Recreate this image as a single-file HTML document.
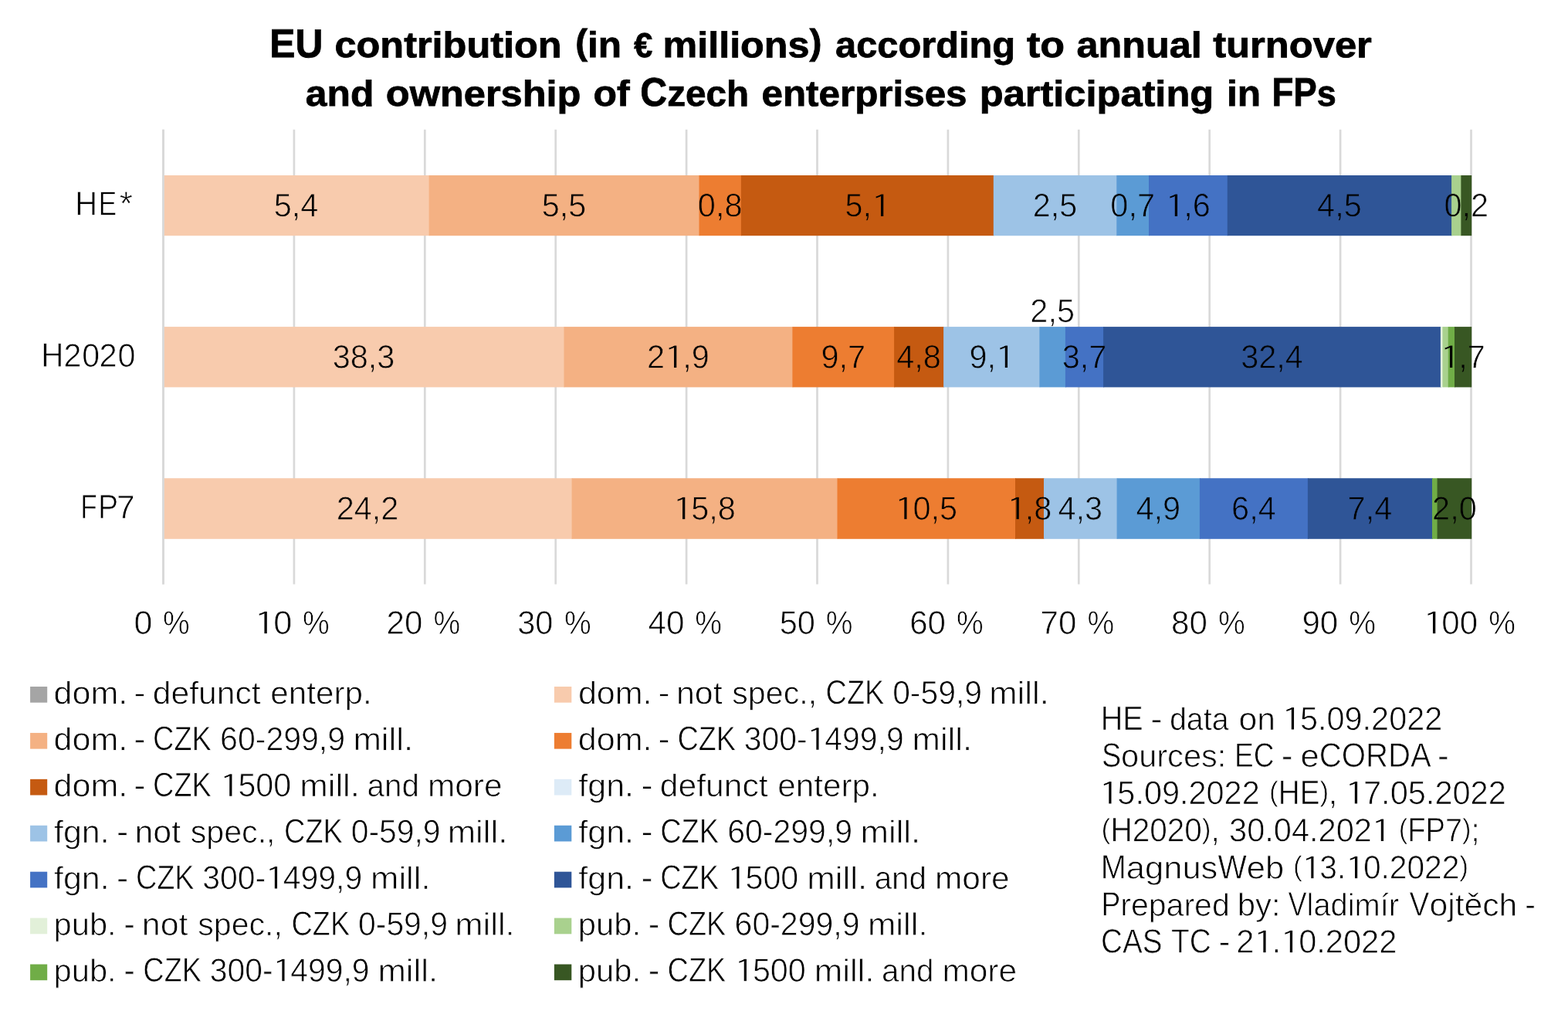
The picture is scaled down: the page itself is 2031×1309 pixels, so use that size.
<!DOCTYPE html>
<html lang="en">
<head>
<meta charset="utf-8">
<title>EU contribution (in € millions) according to annual turnover and ownership of Czech enterprises participating in FPs</title>
<style>
html,body{margin:0;padding:0;background:#fff;}
body{width:2031px;height:1309px;overflow:hidden;}
svg{display:block;}
text{font-family:"Liberation Sans",sans-serif;text-rendering:geometricPrecision;fill:#000;stroke:#fff;stroke-width:0.75px;mix-blend-mode:multiply;}
text.b{font-weight:700;stroke:#000;stroke-width:0.8px;mix-blend-mode:normal;}
tspan.o{font-family:"IPAGothic","Liberation Sans",sans-serif;stroke-width:1.2px;}
</style>
</head>
<body>
<svg width="2031" height="1309" viewBox="0 0 2031 1309" role="img" aria-label="Stacked bar chart: EU contribution by turnover and ownership of Czech enterprises">
<rect width="2031" height="1309" fill="#fff"/>
<g id="gridlines" stroke="#D9D9D9" stroke-width="2.7">
<line x1="211.5" y1="167.8" x2="211.5" y2="756.4"/>
<line x1="380.9" y1="167.8" x2="380.9" y2="756.4"/>
<line x1="550.3" y1="167.8" x2="550.3" y2="756.4"/>
<line x1="719.7" y1="167.8" x2="719.7" y2="756.4"/>
<line x1="889.1" y1="167.8" x2="889.1" y2="756.4"/>
<line x1="1058.5" y1="167.8" x2="1058.5" y2="756.4"/>
<line x1="1227.9" y1="167.8" x2="1227.9" y2="756.4"/>
<line x1="1397.3" y1="167.8" x2="1397.3" y2="756.4"/>
<line x1="1566.7" y1="167.8" x2="1566.7" y2="756.4"/>
<line x1="1736.1" y1="167.8" x2="1736.1" y2="756.4"/>
<line x1="1905.5" y1="167.8" x2="1905.5" y2="756.4"/>
</g>
<g id="bars">
<rect x="211.5" y="227" width="345.1" height="78.2" fill="#F8CBAD"/>
<rect x="555.6" y="227" width="350.9" height="78.2" fill="#F4B183"/>
<rect x="905.5" y="227" width="55.4" height="78.2" fill="#ED7D31"/>
<rect x="959.9" y="227" width="327.9" height="78.2" fill="#C55A11"/>
<rect x="1286.8" y="227" width="160.5" height="78.2" fill="#9DC3E6"/>
<rect x="1446.3" y="227" width="42.7" height="78.2" fill="#5B9BD5"/>
<rect x="1488" y="227" width="102.8" height="78.2" fill="#4472C4"/>
<rect x="1589.8" y="227" width="291.3" height="78.2" fill="#2F5597"/>
<rect x="1880.1" y="227" width="13.3" height="78.2" fill="#A9D18E"/>
<rect x="1892.4" y="227" width="13.8" height="78.2" fill="#385723"/>
<rect x="211.5" y="423.1" width="520" height="78.3" fill="#F8CBAD"/>
<rect x="730.5" y="423.1" width="296.9" height="78.3" fill="#F4B183"/>
<rect x="1026.4" y="423.1" width="132.7" height="78.3" fill="#ED7D31"/>
<rect x="1158.1" y="423.1" width="65" height="78.3" fill="#C55A11"/>
<rect x="1222.1" y="423.1" width="125.3" height="78.3" fill="#9DC3E6"/>
<rect x="1346.4" y="423.1" width="34.5" height="78.3" fill="#5B9BD5"/>
<rect x="1379.9" y="423.1" width="50.2" height="78.3" fill="#4472C4"/>
<rect x="1429.1" y="423.1" width="437.8" height="78.3" fill="#2F5597"/>
<rect x="1865.9" y="423.1" width="3.6" height="78.3" fill="#E2F0D9"/>
<rect x="1868.5" y="423.1" width="8.2" height="78.3" fill="#A9D18E"/>
<rect x="1875.7" y="423.1" width="9.3" height="78.3" fill="#70AD47"/>
<rect x="1884" y="423.1" width="22.2" height="78.3" fill="#385723"/>
<rect x="211.5" y="619.2" width="530.1" height="78.6" fill="#F8CBAD"/>
<rect x="740.6" y="619.2" width="344.9" height="78.6" fill="#F4B183"/>
<rect x="1084.5" y="619.2" width="231.5" height="78.6" fill="#ED7D31"/>
<rect x="1315" y="619.2" width="38" height="78.6" fill="#C55A11"/>
<rect x="1352" y="619.2" width="95.6" height="78.6" fill="#9DC3E6"/>
<rect x="1446.6" y="619.2" width="108.3" height="78.6" fill="#5B9BD5"/>
<rect x="1553.9" y="619.2" width="141" height="78.6" fill="#4472C4"/>
<rect x="1693.9" y="619.2" width="162.1" height="78.6" fill="#2F5597"/>
<rect x="1855" y="619.2" width="7.6" height="78.6" fill="#70AD47"/>
<rect x="1861.6" y="619.2" width="44.6" height="78.6" fill="#385723"/>
</g>
<line x1="211.5" y1="167.8" x2="211.5" y2="756.4" stroke="#D9D9D9" stroke-width="2.7"/>
<g id="data-labels">
<text transform="rotate(0.05)" font-size="44"><tspan x="354.97" y="279.99" textLength="57.66" lengthAdjust="spacingAndGlyphs" font-size="42.46">5,4</tspan></text>
<text transform="rotate(0.05)" font-size="44"><tspan x="701.97" y="279.69" textLength="57.66" lengthAdjust="spacingAndGlyphs" font-size="42.46">5,5</tspan></text>
<text transform="rotate(0.05)" font-size="44"><tspan x="904.12" y="279.51" textLength="57.66" lengthAdjust="spacingAndGlyphs" font-size="42.46">0,8</tspan></text>
<text transform="rotate(0.05)" font-size="44"><tspan x="1094.77" y="279.34" textLength="34.58" lengthAdjust="spacingAndGlyphs" font-size="42.46">5,</tspan><tspan x="1126.67" y="281.69" textLength="30.61" lengthAdjust="spacingAndGlyphs" class="o" font-size="42.46">1</tspan></text>
<text transform="rotate(0.05)" font-size="44"><tspan x="1337.97" y="279.13" textLength="57.66" lengthAdjust="spacingAndGlyphs" font-size="42.46">2,5</tspan></text>
<text transform="rotate(0.05)" font-size="44"><tspan x="1438.57" y="279.04" textLength="57.66" lengthAdjust="spacingAndGlyphs" font-size="42.46">0,7</tspan></text>
<text transform="rotate(0.05)" font-size="44"><tspan x="1507.64" y="281.36" textLength="30.61" lengthAdjust="spacingAndGlyphs" class="o" font-size="42.46">1</tspan><tspan x="1533.39" y="278.96" textLength="34.58" lengthAdjust="spacingAndGlyphs" font-size="42.46">,6</tspan></text>
<text transform="rotate(0.05)" font-size="44"><tspan x="1706.37" y="278.81" textLength="57.66" lengthAdjust="spacingAndGlyphs" font-size="42.46">4,5</tspan></text>
<text transform="rotate(0.05)" font-size="44"><tspan x="1870.72" y="278.67" textLength="57.66" lengthAdjust="spacingAndGlyphs" font-size="42.46">0,2</tspan></text>
<text transform="rotate(0.05)" font-size="44"><tspan x="431.06" y="476.07" textLength="80.72" lengthAdjust="spacingAndGlyphs" font-size="42.46">38,3</tspan></text>
<text transform="rotate(0.05)" font-size="44"><tspan x="838.5" y="475.72" textLength="23.07" lengthAdjust="spacingAndGlyphs" font-size="42.46">2</tspan><tspan x="858.9" y="478.08" textLength="30.61" lengthAdjust="spacingAndGlyphs" class="o" font-size="42.46">1</tspan><tspan x="884.65" y="475.68" textLength="34.58" lengthAdjust="spacingAndGlyphs" font-size="42.46">,9</tspan></text>
<text transform="rotate(0.05)" font-size="44"><tspan x="1063.84" y="475.52" textLength="57.66" lengthAdjust="spacingAndGlyphs" font-size="42.46">9,7</tspan></text>
<text transform="rotate(0.05)" font-size="44"><tspan x="1161.69" y="475.44" textLength="57.66" lengthAdjust="spacingAndGlyphs" font-size="42.46">4,8</tspan></text>
<text transform="rotate(0.05)" font-size="44"><tspan x="1255.84" y="475.35" textLength="34.58" lengthAdjust="spacingAndGlyphs" font-size="42.46">9,</tspan><tspan x="1287.74" y="477.7" textLength="30.61" lengthAdjust="spacingAndGlyphs" class="o" font-size="42.46">1</tspan></text>
<text transform="rotate(0.05)" font-size="44"><tspan x="1334.69" y="415.74" textLength="57.66" lengthAdjust="spacingAndGlyphs" font-size="42.46">2,5</tspan></text>
<text transform="rotate(0.05)" font-size="44"><tspan x="1376.09" y="475.25" textLength="57.66" lengthAdjust="spacingAndGlyphs" font-size="42.46">3,7</tspan></text>
<text transform="rotate(0.05)" font-size="44"><tspan x="1607.56" y="475.05" textLength="80.72" lengthAdjust="spacingAndGlyphs" font-size="42.46">32,4</tspan></text>
<text transform="rotate(0.05)" font-size="44"><tspan x="1864.01" y="477.2" textLength="30.61" lengthAdjust="spacingAndGlyphs" class="o" font-size="42.46">1</tspan><tspan x="1889.76" y="474.8" textLength="34.58" lengthAdjust="spacingAndGlyphs" font-size="42.46">,7</tspan></text>
<text transform="rotate(0.05)" font-size="44"><tspan x="436.28" y="672.32" textLength="80.72" lengthAdjust="spacingAndGlyphs" font-size="42.46">24,2</tspan></text>
<text transform="rotate(0.05)" font-size="44"><tspan x="870.1" y="674.32" textLength="30.61" lengthAdjust="spacingAndGlyphs" class="o" font-size="42.46">1</tspan><tspan x="895.85" y="671.92" textLength="57.66" lengthAdjust="spacingAndGlyphs" font-size="42.46">5,8</tspan></text>
<text transform="rotate(0.05)" font-size="44"><tspan x="1157.3" y="674.07" textLength="30.61" lengthAdjust="spacingAndGlyphs" class="o" font-size="42.46">1</tspan><tspan x="1183.05" y="671.67" textLength="57.66" lengthAdjust="spacingAndGlyphs" font-size="42.46">0,5</tspan></text>
<text transform="rotate(0.05)" font-size="44"><tspan x="1302.58" y="673.94" textLength="30.61" lengthAdjust="spacingAndGlyphs" class="o" font-size="42.46">1</tspan><tspan x="1328.33" y="671.54" textLength="34.58" lengthAdjust="spacingAndGlyphs" font-size="42.46">,8</tspan></text>
<text transform="rotate(0.05)" font-size="44"><tspan x="1371.06" y="671.5" textLength="57.66" lengthAdjust="spacingAndGlyphs" font-size="42.46">4,3</tspan></text>
<text transform="rotate(0.05)" font-size="44"><tspan x="1472.01" y="671.42" textLength="57.66" lengthAdjust="spacingAndGlyphs" font-size="42.46">4,9</tspan></text>
<text transform="rotate(0.05)" font-size="44"><tspan x="1595.66" y="671.31" textLength="57.66" lengthAdjust="spacingAndGlyphs" font-size="42.46">6,4</tspan></text>
<text transform="rotate(0.05)" font-size="44"><tspan x="1746.21" y="671.18" textLength="57.66" lengthAdjust="spacingAndGlyphs" font-size="42.46">7,4</tspan></text>
<text transform="rotate(0.05)" font-size="44"><tspan x="1855.66" y="671.08" textLength="57.66" lengthAdjust="spacingAndGlyphs" font-size="42.46">2,0</tspan></text>
</g>
<g id="legend-swatches">
<rect x="39.1" y="889" width="22.1" height="20.7" fill="#A5A5A5"/>
<rect x="39.1" y="948.92" width="22.1" height="20.7" fill="#F4B183"/>
<rect x="39.1" y="1008.84" width="22.1" height="20.7" fill="#C55A11"/>
<rect x="39.1" y="1068.76" width="22.1" height="20.7" fill="#9DC3E6"/>
<rect x="39.1" y="1128.68" width="22.1" height="20.7" fill="#4472C4"/>
<rect x="39.1" y="1188.6" width="22.1" height="20.7" fill="#E2F0D9"/>
<rect x="39.1" y="1248.52" width="22.1" height="20.7" fill="#70AD47"/>
<rect x="717.9" y="889" width="22.4" height="20.7" fill="#F8CBAD"/>
<rect x="717.9" y="948.92" width="22.4" height="20.7" fill="#ED7D31"/>
<rect x="717.9" y="1008.84" width="22.4" height="20.7" fill="#DDEBF7"/>
<rect x="717.9" y="1068.76" width="22.4" height="20.7" fill="#5B9BD5"/>
<rect x="717.9" y="1128.68" width="22.4" height="20.7" fill="#2F5597"/>
<rect x="717.9" y="1188.6" width="22.4" height="20.7" fill="#A9D18E"/>
<rect x="717.9" y="1248.52" width="22.4" height="20.7" fill="#385723"/>
</g>
<g id="labels">
<text transform="rotate(0.05)" font-size="52.1" class="b"><tspan x="349.43" y="73.8" textLength="68.93" lengthAdjust="spacingAndGlyphs">EU</tspan> <tspan x="433.57" y="73.72" textLength="294.17" lengthAdjust="spacingAndGlyphs" font-size="46.89">contribution</tspan> <tspan x="745.39" y="69.7" textLength="15.75" lengthAdjust="spacingAndGlyphs" font-size="46.11">(</tspan><tspan x="761.14" y="73.44" textLength="44.02" lengthAdjust="spacingAndGlyphs" font-size="46.89">in</tspan> <tspan x="821.32" y="73.38" textLength="24.02" lengthAdjust="spacingAndGlyphs" font-size="44.81">€</tspan> <tspan x="858.66" y="73.35" textLength="189.83" lengthAdjust="spacingAndGlyphs" font-size="46.89">millions</tspan><tspan x="1048.48" y="69.43" textLength="15.98" lengthAdjust="spacingAndGlyphs" font-size="46.11">)</tspan> <tspan x="1082.12" y="73.16" textLength="233.04" lengthAdjust="spacingAndGlyphs" font-size="46.89">according</tspan> <tspan x="1330.12" y="72.94" textLength="49.1" lengthAdjust="spacingAndGlyphs" font-size="46.89">to</tspan> <tspan x="1394.69" y="72.88" textLength="162.16" lengthAdjust="spacingAndGlyphs" font-size="46.89">annual</tspan> <tspan x="1571.22" y="72.73" textLength="205.68" lengthAdjust="spacingAndGlyphs" font-size="46.89">turnover</tspan></text>
<text transform="rotate(0.05)" font-size="52.1" class="b"><tspan x="395.95" y="136.75" textLength="88.54" lengthAdjust="spacingAndGlyphs" font-size="46.89">and</tspan> <tspan x="499.94" y="136.66" textLength="252.64" lengthAdjust="spacingAndGlyphs" font-size="46.89">ownership</tspan> <tspan x="768.55" y="136.43" textLength="47.1" lengthAdjust="spacingAndGlyphs" font-size="46.89">of</tspan> <tspan x="829.49" y="136.38" textLength="34.87" lengthAdjust="spacingAndGlyphs">C</tspan><tspan x="864.36" y="136.35" textLength="105.83" lengthAdjust="spacingAndGlyphs" font-size="46.89">zech</tspan> <tspan x="986.57" y="136.24" textLength="266.13" lengthAdjust="spacingAndGlyphs" font-size="46.89">enterprises</tspan> <tspan x="1268.89" y="135.99" textLength="303.43" lengthAdjust="spacingAndGlyphs" font-size="46.89">participating</tspan> <tspan x="1589.09" y="135.71" textLength="44.14" lengthAdjust="spacingAndGlyphs" font-size="46.89">in</tspan> <tspan x="1647.52" y="135.66" textLength="58.35" lengthAdjust="spacingAndGlyphs">FP</tspan><tspan x="1705.86" y="135.61" textLength="25.04" lengthAdjust="spacingAndGlyphs" font-size="46.89">s</tspan></text>
<text transform="rotate(0.05)" font-size="44"><tspan x="97.49" y="278.52" textLength="28.82" lengthAdjust="spacingAndGlyphs">H</tspan><tspan x="128.12" y="278.49" textLength="23.44" lengthAdjust="spacingAndGlyphs">E</tspan><tspan x="155.09" y="278.46" textLength="17.13" lengthAdjust="spacingAndGlyphs">*</tspan></text>
<text transform="rotate(0.05)" font-size="44"><tspan x="53.73" y="474.65" textLength="29.08" lengthAdjust="spacingAndGlyphs">H</tspan><tspan x="82.95" y="474.63" textLength="22.91" lengthAdjust="spacingAndGlyphs" font-size="42.46">2</tspan><tspan x="106.66" y="474.61" textLength="22.84" lengthAdjust="spacingAndGlyphs" font-size="42.46">0</tspan><tspan x="128.83" y="474.59" textLength="23.17" lengthAdjust="spacingAndGlyphs" font-size="42.46">2</tspan><tspan x="152.95" y="474.57" textLength="22.96" lengthAdjust="spacingAndGlyphs" font-size="42.46">0</tspan></text>
<text transform="rotate(0.05)" font-size="44"><tspan x="104.85" y="671.01" textLength="21.5" lengthAdjust="spacingAndGlyphs">F</tspan><tspan x="127.7" y="670.99" textLength="26.12" lengthAdjust="spacingAndGlyphs">P</tspan><tspan x="151.71" y="670.97" textLength="23.6" lengthAdjust="spacingAndGlyphs" font-size="42.46">7</tspan></text>
<text transform="rotate(0.05)" font-size="44"><tspan x="70.38" y="911.14" textLength="95.72" lengthAdjust="spacingAndGlyphs" font-size="40.92">dom.</tspan> <tspan x="174.09" y="911.05" textLength="15.22" lengthAdjust="spacingAndGlyphs" font-size="42.46">-</tspan> <tspan x="198.5" y="911.03" textLength="139.92" lengthAdjust="spacingAndGlyphs" font-size="40.92">defunct</tspan> <tspan x="351.01" y="910.89" textLength="131.45" lengthAdjust="spacingAndGlyphs" font-size="40.92">enterp.</tspan></text>
<text transform="rotate(0.05)" font-size="44"><tspan x="70.43" y="971.06" textLength="95.72" lengthAdjust="spacingAndGlyphs" font-size="40.92">dom.</tspan> <tspan x="174.15" y="970.97" textLength="15.22" lengthAdjust="spacingAndGlyphs" font-size="42.46">-</tspan> <tspan x="198.97" y="970.95" textLength="75.67" lengthAdjust="spacingAndGlyphs">CZK</tspan> <tspan x="285.98" y="970.87" textLength="161.87" lengthAdjust="spacingAndGlyphs" font-size="42.46">60-299,9</tspan> <tspan x="458.32" y="970.72" textLength="77.66" lengthAdjust="spacingAndGlyphs" font-size="40.92">mill.</tspan></text>
<text transform="rotate(0.05)" font-size="44"><tspan x="70.48" y="1030.98" textLength="95.72" lengthAdjust="spacingAndGlyphs" font-size="40.92">dom.</tspan> <tspan x="174.2" y="1030.89" textLength="15.22" lengthAdjust="spacingAndGlyphs" font-size="42.46">-</tspan> <tspan x="199.02" y="1030.87" textLength="75.67" lengthAdjust="spacingAndGlyphs">CZK</tspan> <tspan x="283.68" y="1033.17" textLength="30.45" lengthAdjust="spacingAndGlyphs" class="o" font-size="42.46">1</tspan><tspan x="309.29" y="1030.77" textLength="68.83" lengthAdjust="spacingAndGlyphs" font-size="42.46">500</tspan> <tspan x="389.07" y="1030.7" textLength="77.88" lengthAdjust="spacingAndGlyphs" font-size="40.92">mill.</tspan> <tspan x="476.5" y="1030.62" textLength="67.31" lengthAdjust="spacingAndGlyphs" font-size="40.92">and</tspan> <tspan x="554.87" y="1030.56" textLength="96.54" lengthAdjust="spacingAndGlyphs" font-size="40.92">more</tspan></text>
<text transform="rotate(0.05)" font-size="44"><tspan x="70.99" y="1090.9" textLength="71.62" lengthAdjust="spacingAndGlyphs" font-size="40.92">fgn.</tspan> <tspan x="152.05" y="1090.83" textLength="15.22" lengthAdjust="spacingAndGlyphs" font-size="42.46">-</tspan> <tspan x="175.38" y="1090.81" textLength="59.66" lengthAdjust="spacingAndGlyphs" font-size="40.92">not</tspan> <tspan x="247.73" y="1090.74" textLength="109.79" lengthAdjust="spacingAndGlyphs" font-size="40.92">spec.,</tspan> <tspan x="369.07" y="1090.64" textLength="75.67" lengthAdjust="spacingAndGlyphs">CZK</tspan> <tspan x="455.61" y="1090.56" textLength="115.84" lengthAdjust="spacingAndGlyphs" font-size="42.46">0-59,9</tspan> <tspan x="580.73" y="1090.45" textLength="77.55" lengthAdjust="spacingAndGlyphs" font-size="40.92">mill.</tspan></text>
<text transform="rotate(0.05)" font-size="44"><tspan x="71.05" y="1150.82" textLength="71.62" lengthAdjust="spacingAndGlyphs" font-size="40.92">fgn.</tspan> <tspan x="152.1" y="1150.75" textLength="15.22" lengthAdjust="spacingAndGlyphs" font-size="42.46">-</tspan> <tspan x="176.92" y="1150.73" textLength="75.67" lengthAdjust="spacingAndGlyphs">CZK</tspan> <tspan x="263.34" y="1150.65" textLength="81.81" lengthAdjust="spacingAndGlyphs" font-size="42.46">300-</tspan><tspan x="342.51" y="1152.96" textLength="30.17" lengthAdjust="spacingAndGlyphs" class="o" font-size="42.46">1</tspan><tspan x="367.89" y="1150.56" textLength="102.3" lengthAdjust="spacingAndGlyphs" font-size="42.46">499,9</tspan> <tspan x="481.08" y="1150.46" textLength="77.55" lengthAdjust="spacingAndGlyphs" font-size="40.92">mill.</tspan></text>
<text transform="rotate(0.05)" font-size="44"><tspan x="70.59" y="1210.74" textLength="81.2" lengthAdjust="spacingAndGlyphs" font-size="40.92">pub.</tspan> <tspan x="161.43" y="1210.66" textLength="14.66" lengthAdjust="spacingAndGlyphs" font-size="42.46">-</tspan> <tspan x="184.89" y="1210.64" textLength="59.66" lengthAdjust="spacingAndGlyphs" font-size="40.92">not</tspan> <tspan x="257.24" y="1210.58" textLength="109.79" lengthAdjust="spacingAndGlyphs" font-size="40.92">spec.,</tspan> <tspan x="378.58" y="1210.47" textLength="75.67" lengthAdjust="spacingAndGlyphs">CZK</tspan> <tspan x="465.11" y="1210.39" textLength="115.84" lengthAdjust="spacingAndGlyphs" font-size="42.46">0-59,9</tspan> <tspan x="590.24" y="1210.29" textLength="77.55" lengthAdjust="spacingAndGlyphs" font-size="40.92">mill.</tspan></text>
<text transform="rotate(0.05)" font-size="44"><tspan x="70.64" y="1270.66" textLength="81.2" lengthAdjust="spacingAndGlyphs" font-size="40.92">pub.</tspan> <tspan x="161.48" y="1270.58" textLength="14.66" lengthAdjust="spacingAndGlyphs" font-size="42.46">-</tspan> <tspan x="186.43" y="1270.56" textLength="75.67" lengthAdjust="spacingAndGlyphs">CZK</tspan> <tspan x="272.84" y="1270.48" textLength="81.81" lengthAdjust="spacingAndGlyphs" font-size="42.46">300-</tspan><tspan x="352.01" y="1272.79" textLength="30.17" lengthAdjust="spacingAndGlyphs" class="o" font-size="42.46">1</tspan><tspan x="377.4" y="1270.39" textLength="102.3" lengthAdjust="spacingAndGlyphs" font-size="42.46">499,9</tspan> <tspan x="490.59" y="1270.29" textLength="77.55" lengthAdjust="spacingAndGlyphs" font-size="40.92">mill.</tspan></text>
<text transform="rotate(0.05)" font-size="44"><tspan x="749.68" y="910.55" textLength="95.72" lengthAdjust="spacingAndGlyphs" font-size="40.92">dom.</tspan> <tspan x="853.39" y="910.46" textLength="15.22" lengthAdjust="spacingAndGlyphs" font-size="42.46">-</tspan> <tspan x="876.73" y="910.44" textLength="59.66" lengthAdjust="spacingAndGlyphs" font-size="40.92">not</tspan> <tspan x="949.08" y="910.37" textLength="109.79" lengthAdjust="spacingAndGlyphs" font-size="40.92">spec.,</tspan> <tspan x="1070.41" y="910.27" textLength="75.67" lengthAdjust="spacingAndGlyphs">CZK</tspan> <tspan x="1156.95" y="910.19" textLength="115.84" lengthAdjust="spacingAndGlyphs" font-size="42.46">0-59,9</tspan> <tspan x="1282.07" y="910.08" textLength="77.55" lengthAdjust="spacingAndGlyphs" font-size="40.92">mill.</tspan></text>
<text transform="rotate(0.05)" font-size="44"><tspan x="749.73" y="970.47" textLength="95.72" lengthAdjust="spacingAndGlyphs" font-size="40.92">dom.</tspan> <tspan x="853.44" y="970.38" textLength="15.22" lengthAdjust="spacingAndGlyphs" font-size="42.46">-</tspan> <tspan x="878.27" y="970.35" textLength="75.67" lengthAdjust="spacingAndGlyphs">CZK</tspan> <tspan x="964.68" y="970.28" textLength="81.81" lengthAdjust="spacingAndGlyphs" font-size="42.46">300-</tspan><tspan x="1043.85" y="972.59" textLength="30.17" lengthAdjust="spacingAndGlyphs" class="o" font-size="42.46">1</tspan><tspan x="1069.23" y="970.19" textLength="102.3" lengthAdjust="spacingAndGlyphs" font-size="42.46">499,9</tspan> <tspan x="1182.43" y="970.09" textLength="77.55" lengthAdjust="spacingAndGlyphs" font-size="40.92">mill.</tspan></text>
<text transform="rotate(0.05)" font-size="44"><tspan x="750.24" y="1030.39" textLength="71.62" lengthAdjust="spacingAndGlyphs" font-size="40.92">fgn.</tspan> <tspan x="831.3" y="1030.31" textLength="15.22" lengthAdjust="spacingAndGlyphs" font-size="42.46">-</tspan> <tspan x="855.7" y="1030.29" textLength="139.92" lengthAdjust="spacingAndGlyphs" font-size="40.92">defunct</tspan> <tspan x="1008.22" y="1030.16" textLength="131.45" lengthAdjust="spacingAndGlyphs" font-size="40.92">enterp.</tspan></text>
<text transform="rotate(0.05)" font-size="44"><tspan x="750.29" y="1090.31" textLength="71.62" lengthAdjust="spacingAndGlyphs" font-size="40.92">fgn.</tspan> <tspan x="831.35" y="1090.23" textLength="15.22" lengthAdjust="spacingAndGlyphs" font-size="42.46">-</tspan> <tspan x="856.17" y="1090.21" textLength="75.67" lengthAdjust="spacingAndGlyphs">CZK</tspan> <tspan x="943.18" y="1090.14" textLength="161.87" lengthAdjust="spacingAndGlyphs" font-size="42.46">60-299,9</tspan> <tspan x="1115.53" y="1089.99" textLength="77.66" lengthAdjust="spacingAndGlyphs" font-size="40.92">mill.</tspan></text>
<text transform="rotate(0.05)" font-size="44"><tspan x="750.34" y="1150.23" textLength="71.62" lengthAdjust="spacingAndGlyphs" font-size="40.92">fgn.</tspan> <tspan x="831.4" y="1150.15" textLength="15.22" lengthAdjust="spacingAndGlyphs" font-size="42.46">-</tspan> <tspan x="856.22" y="1150.13" textLength="75.67" lengthAdjust="spacingAndGlyphs">CZK</tspan> <tspan x="940.88" y="1152.44" textLength="30.45" lengthAdjust="spacingAndGlyphs" class="o" font-size="42.46">1</tspan><tspan x="966.49" y="1150.04" textLength="68.83" lengthAdjust="spacingAndGlyphs" font-size="42.46">500</tspan> <tspan x="1046.27" y="1149.97" textLength="77.88" lengthAdjust="spacingAndGlyphs" font-size="40.92">mill.</tspan> <tspan x="1133.7" y="1149.89" textLength="67.31" lengthAdjust="spacingAndGlyphs" font-size="40.92">and</tspan> <tspan x="1212.07" y="1149.82" textLength="96.54" lengthAdjust="spacingAndGlyphs" font-size="40.92">more</tspan></text>
<text transform="rotate(0.05)" font-size="44"><tspan x="749.88" y="1210.15" textLength="81.2" lengthAdjust="spacingAndGlyphs" font-size="40.92">pub.</tspan> <tspan x="840.73" y="1210.07" textLength="14.66" lengthAdjust="spacingAndGlyphs" font-size="42.46">-</tspan> <tspan x="865.68" y="1210.05" textLength="75.67" lengthAdjust="spacingAndGlyphs">CZK</tspan> <tspan x="952.68" y="1209.97" textLength="161.87" lengthAdjust="spacingAndGlyphs" font-size="42.46">60-299,9</tspan> <tspan x="1125.03" y="1209.82" textLength="77.66" lengthAdjust="spacingAndGlyphs" font-size="40.92">mill.</tspan></text>
<text transform="rotate(0.05)" font-size="44"><tspan x="749.94" y="1270.07" textLength="81.2" lengthAdjust="spacingAndGlyphs" font-size="40.92">pub.</tspan> <tspan x="840.78" y="1269.99" textLength="14.66" lengthAdjust="spacingAndGlyphs" font-size="42.46">-</tspan> <tspan x="865.73" y="1269.96" textLength="75.67" lengthAdjust="spacingAndGlyphs">CZK</tspan> <tspan x="950.39" y="1272.27" textLength="30.45" lengthAdjust="spacingAndGlyphs" class="o" font-size="42.46">1</tspan><tspan x="976" y="1269.87" textLength="68.83" lengthAdjust="spacingAndGlyphs" font-size="42.46">500</tspan> <tspan x="1055.78" y="1269.8" textLength="77.88" lengthAdjust="spacingAndGlyphs" font-size="40.92">mill.</tspan> <tspan x="1143.21" y="1269.72" textLength="67.31" lengthAdjust="spacingAndGlyphs" font-size="40.92">and</tspan> <tspan x="1221.58" y="1269.65" textLength="96.54" lengthAdjust="spacingAndGlyphs" font-size="40.92">more</tspan></text>
<text transform="rotate(0.05)" font-size="44"><tspan x="1426.6" y="943.66" textLength="54.97" lengthAdjust="spacingAndGlyphs">HE</tspan> <tspan x="1491.1" y="943.6" textLength="15.36" lengthAdjust="spacingAndGlyphs" font-size="42.46">-</tspan> <tspan x="1515.78" y="943.58" textLength="76.76" lengthAdjust="spacingAndGlyphs" font-size="40.92">data</tspan> <tspan x="1605.44" y="943.5" textLength="47.38" lengthAdjust="spacingAndGlyphs" font-size="40.92">on</tspan> <tspan x="1659.06" y="945.83" textLength="30.58" lengthAdjust="spacingAndGlyphs" class="o" font-size="42.46">1</tspan><tspan x="1684.79" y="943.43" textLength="184.33" lengthAdjust="spacingAndGlyphs" font-size="42.46">5.09.2022</tspan></text>
<text transform="rotate(0.05)" font-size="44"><tspan x="1427.76" y="991.45" textLength="25.19" lengthAdjust="spacingAndGlyphs">S</tspan><tspan x="1452.95" y="991.43" textLength="136.26" lengthAdjust="spacingAndGlyphs" font-size="40.92">ources:</tspan> <tspan x="1599.98" y="991.3" textLength="51.34" lengthAdjust="spacingAndGlyphs">EC</tspan> <tspan x="1660.7" y="991.25" textLength="14.94" lengthAdjust="spacingAndGlyphs" font-size="42.46">-</tspan> <tspan x="1685.42" y="991.23" textLength="24.22" lengthAdjust="spacingAndGlyphs" font-size="40.92">e</tspan><tspan x="1709.64" y="991.21" textLength="142.78" lengthAdjust="spacingAndGlyphs">CORDA</tspan> <tspan x="1862.82" y="991.07" textLength="14.8" lengthAdjust="spacingAndGlyphs" font-size="42.46">-</tspan></text>
<text transform="rotate(0.05)" font-size="44"><tspan x="1422.55" y="1042.03" textLength="30.58" lengthAdjust="spacingAndGlyphs" class="o" font-size="42.46">1</tspan><tspan x="1448.28" y="1039.64" textLength="184.33" lengthAdjust="spacingAndGlyphs" font-size="42.46">5.09.2022</tspan> <tspan x="1645.03" y="1035.72" textLength="11.66" lengthAdjust="spacingAndGlyphs" font-size="36.52">(</tspan><tspan x="1656.7" y="1039.45" textLength="53.64" lengthAdjust="spacingAndGlyphs">HE</tspan><tspan x="1710.33" y="1035.67" textLength="11.66" lengthAdjust="spacingAndGlyphs" font-size="36.52">)</tspan><tspan x="1722" y="1039.4" textLength="11.13" lengthAdjust="spacingAndGlyphs" font-size="42.46">,</tspan> <tspan x="1741.13" y="1041.76" textLength="30.66" lengthAdjust="spacingAndGlyphs" class="o" font-size="42.46">1</tspan><tspan x="1766.92" y="1039.36" textLength="184.79" lengthAdjust="spacingAndGlyphs" font-size="42.46">7.05.2022</tspan></text>
<text transform="rotate(0.05)" font-size="44"><tspan x="1427.54" y="1084.31" textLength="11.81" lengthAdjust="spacingAndGlyphs" font-size="36.52">(</tspan><tspan x="1439.35" y="1088.04" textLength="28.23" lengthAdjust="spacingAndGlyphs">H</tspan><tspan x="1467.58" y="1088.02" textLength="90.17" lengthAdjust="spacingAndGlyphs" font-size="42.46">2020</tspan><tspan x="1557.75" y="1084.2" textLength="11.81" lengthAdjust="spacingAndGlyphs" font-size="36.52">)</tspan><tspan x="1569.55" y="1087.93" textLength="11.26" lengthAdjust="spacingAndGlyphs" font-size="42.46">,</tspan> <tspan x="1593.06" y="1087.91" textLength="184.73" lengthAdjust="spacingAndGlyphs" font-size="42.46">30.04.202</tspan><tspan x="1775.11" y="1090.13" textLength="30.65" lengthAdjust="spacingAndGlyphs" class="o" font-size="42.46">1</tspan> <tspan x="1812.61" y="1083.98" textLength="11.52" lengthAdjust="spacingAndGlyphs" font-size="36.52">(</tspan><tspan x="1824.13" y="1087.71" textLength="48.76" lengthAdjust="spacingAndGlyphs">FP</tspan><tspan x="1872.89" y="1087.67" textLength="22.01" lengthAdjust="spacingAndGlyphs" font-size="42.46">7</tspan><tspan x="1894.9" y="1083.91" textLength="11.52" lengthAdjust="spacingAndGlyphs" font-size="36.52">)</tspan><tspan x="1906.43" y="1087.64" textLength="10.99" lengthAdjust="spacingAndGlyphs" font-size="42.46">;</tspan></text>
<text transform="rotate(0.05)" font-size="44"><tspan x="1426.77" y="1136.26" textLength="32.96" lengthAdjust="spacingAndGlyphs">M</tspan><tspan x="1459.73" y="1136.23" textLength="118.67" lengthAdjust="spacingAndGlyphs" font-size="40.92">agnus</tspan><tspan x="1578.41" y="1136.12" textLength="37.35" lengthAdjust="spacingAndGlyphs">W</tspan><tspan x="1615.75" y="1136.09" textLength="48.46" lengthAdjust="spacingAndGlyphs" font-size="40.92">eb</tspan> <tspan x="1675.88" y="1132.3" textLength="11.85" lengthAdjust="spacingAndGlyphs" font-size="36.52">(</tspan><tspan x="1685.1" y="1138.41" textLength="30.02" lengthAdjust="spacingAndGlyphs" class="o" font-size="42.46">1</tspan><tspan x="1710.35" y="1136.01" textLength="33.91" lengthAdjust="spacingAndGlyphs" font-size="42.46">3.</tspan><tspan x="1741.64" y="1138.36" textLength="30.02" lengthAdjust="spacingAndGlyphs" class="o" font-size="42.46">1</tspan><tspan x="1766.89" y="1135.96" textLength="124.38" lengthAdjust="spacingAndGlyphs" font-size="42.46">0.2022</tspan><tspan x="1891.27" y="1132.11" textLength="11.85" lengthAdjust="spacingAndGlyphs" font-size="36.52">)</tspan></text>
<text transform="rotate(0.05)" font-size="44"><tspan x="1427.52" y="1184.35" textLength="24.86" lengthAdjust="spacingAndGlyphs">P</tspan><tspan x="1452.38" y="1184.33" textLength="141.37" lengthAdjust="spacingAndGlyphs" font-size="40.92">repared</tspan> <tspan x="1603.85" y="1184.2" textLength="55.78" lengthAdjust="spacingAndGlyphs" font-size="40.92">by:</tspan> <tspan x="1669.48" y="1184.14" textLength="24.12" lengthAdjust="spacingAndGlyphs">V</tspan><tspan x="1693.6" y="1184.12" textLength="119.39" lengthAdjust="spacingAndGlyphs" font-size="40.92">ladimír</tspan> <tspan x="1826.63" y="1184.01" textLength="25.88" lengthAdjust="spacingAndGlyphs">V</tspan><tspan x="1852.5" y="1183.98" textLength="113.91" lengthAdjust="spacingAndGlyphs" font-size="40.92">ojtěch</tspan> <tspan x="1976.24" y="1183.88" textLength="13.69" lengthAdjust="spacingAndGlyphs" font-size="42.46">-</tspan></text>
<text transform="rotate(0.05)" font-size="44"><tspan x="1427.04" y="1232.36" textLength="79.54" lengthAdjust="spacingAndGlyphs">CAS</tspan> <tspan x="1518.02" y="1232.28" textLength="51.72" lengthAdjust="spacingAndGlyphs">TC</tspan> <tspan x="1579.51" y="1232.22" textLength="14.94" lengthAdjust="spacingAndGlyphs" font-size="42.46">-</tspan> <tspan x="1602.29" y="1232.2" textLength="23.13" lengthAdjust="spacingAndGlyphs" font-size="42.46">2</tspan><tspan x="1622.74" y="1234.56" textLength="30.68" lengthAdjust="spacingAndGlyphs" class="o" font-size="42.46">1</tspan><tspan x="1648.55" y="1232.16" textLength="11.55" lengthAdjust="spacingAndGlyphs" font-size="42.46">.</tspan><tspan x="1657.42" y="1234.53" textLength="30.68" lengthAdjust="spacingAndGlyphs" class="o" font-size="42.46">1</tspan><tspan x="1683.23" y="1232.13" textLength="127.14" lengthAdjust="spacingAndGlyphs" font-size="42.46">0.2022</tspan></text>
<text transform="rotate(0.05)" font-size="44"><tspan x="174.18" y="820.5" textLength="23.93" lengthAdjust="spacingAndGlyphs" font-size="42.46">0</tspan>&#160;<tspan x="211.67" y="820.47" textLength="34.69" lengthAdjust="spacingAndGlyphs" font-size="42.46">%</tspan></text>
<text transform="rotate(0.05)" font-size="44"><tspan x="328" y="822.74" textLength="31.92" lengthAdjust="spacingAndGlyphs" class="o" font-size="42.46">1</tspan><tspan x="354.85" y="820.34" textLength="24.06" lengthAdjust="spacingAndGlyphs" font-size="42.46">0</tspan>&#160;<tspan x="392.82" y="820.31" textLength="34.74" lengthAdjust="spacingAndGlyphs" font-size="42.46">%</tspan></text>
<text transform="rotate(0.05)" font-size="44"><tspan x="501.2" y="820.21" textLength="46.84" lengthAdjust="spacingAndGlyphs" font-size="42.46">20</tspan>&#160;<tspan x="562.22" y="820.16" textLength="34.74" lengthAdjust="spacingAndGlyphs" font-size="42.46">%</tspan></text>
<text transform="rotate(0.05)" font-size="44"><tspan x="670.92" y="820.06" textLength="46.19" lengthAdjust="spacingAndGlyphs" font-size="42.46">30</tspan>&#160;<tspan x="731.62" y="820.01" textLength="34.74" lengthAdjust="spacingAndGlyphs" font-size="42.46">%</tspan></text>
<text transform="rotate(0.05)" font-size="44"><tspan x="840.21" y="819.92" textLength="47.03" lengthAdjust="spacingAndGlyphs" font-size="42.46">40</tspan>&#160;<tspan x="901.02" y="819.86" textLength="34.74" lengthAdjust="spacingAndGlyphs" font-size="42.46">%</tspan></text>
<text transform="rotate(0.05)" font-size="44"><tspan x="1010.41" y="819.77" textLength="46.2" lengthAdjust="spacingAndGlyphs" font-size="42.46">50</tspan>&#160;<tspan x="1070.42" y="819.72" textLength="34.74" lengthAdjust="spacingAndGlyphs" font-size="42.46">%</tspan></text>
<text transform="rotate(0.05)" font-size="44"><tspan x="1178.9" y="819.62" textLength="46.84" lengthAdjust="spacingAndGlyphs" font-size="42.46">60</tspan>&#160;<tspan x="1239.82" y="819.57" textLength="34.74" lengthAdjust="spacingAndGlyphs" font-size="42.46">%</tspan></text>
<text transform="rotate(0.05)" font-size="44"><tspan x="1348.3" y="819.47" textLength="46.84" lengthAdjust="spacingAndGlyphs" font-size="42.46">70</tspan>&#160;<tspan x="1409.22" y="819.42" textLength="34.74" lengthAdjust="spacingAndGlyphs" font-size="42.46">%</tspan></text>
<text transform="rotate(0.05)" font-size="44"><tspan x="1517.7" y="819.33" textLength="46.84" lengthAdjust="spacingAndGlyphs" font-size="42.46">80</tspan>&#160;<tspan x="1578.62" y="819.27" textLength="34.74" lengthAdjust="spacingAndGlyphs" font-size="42.46">%</tspan></text>
<text transform="rotate(0.05)" font-size="44"><tspan x="1687.1" y="819.18" textLength="46.84" lengthAdjust="spacingAndGlyphs" font-size="42.46">90</tspan>&#160;<tspan x="1748.02" y="819.12" textLength="34.74" lengthAdjust="spacingAndGlyphs" font-size="42.46">%</tspan></text>
<text transform="rotate(0.05)" font-size="44"><tspan x="1841.93" y="821.42" textLength="31.04" lengthAdjust="spacingAndGlyphs" class="o" font-size="42.46">1</tspan><tspan x="1868.05" y="819.02" textLength="46.79" lengthAdjust="spacingAndGlyphs" font-size="42.46">00</tspan>&#160;<tspan x="1928.97" y="818.97" textLength="34.69" lengthAdjust="spacingAndGlyphs" font-size="42.46">%</tspan></text>
</g>
</svg>
</body>
</html>
